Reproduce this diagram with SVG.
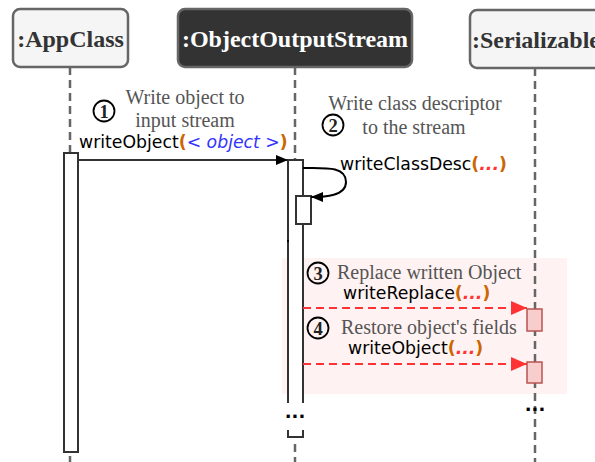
<svg xmlns="http://www.w3.org/2000/svg" width="595" height="462" viewBox="0 0 595 462">
<defs>
<style>
.hdr{font-family:"Liberation Serif",serif;font-weight:bold;font-size:24px;text-anchor:middle}
.life{stroke:#666;stroke-width:2.5;stroke-dasharray:8 5;fill:none}
.note{font-family:"Liberation Serif",serif;font-size:20px;fill:#555}
.circ{fill:none;stroke:#000;stroke-width:1.8}
.num{font-family:"Liberation Serif",serif;font-size:18.5px;font-weight:bold;fill:#222;text-anchor:middle}
.lbl{font-family:"DejaVu Sans",sans-serif;font-size:17.3px;fill:#000}
.par{fill:#cc6600;font-weight:bold}
.dots{fill:#ff3333;font-weight:bold;font-style:italic}
.obj{fill:#3333ff;font-style:italic}
.act{fill:#fff;stroke:#333;stroke-width:2}
.sact{fill:#f8cecc;stroke:#b85450;stroke-width:1.5}
.red{stroke:#ff3333;stroke-width:2;stroke-dasharray:8 5;fill:none}
.ell{font-family:"DejaVu Sans",sans-serif;font-size:18px;font-weight:bold;text-anchor:middle}
</style>
<marker id="ab" viewBox="0 0 12 10" refX="12" refY="5" markerWidth="12" markerHeight="10" markerUnits="userSpaceOnUse" orient="auto"><path d="M0,0L12,5L0,10z" fill="#000"/></marker>
<marker id="ar" viewBox="0 0 16 14" refX="16" refY="7" markerWidth="16" markerHeight="14" markerUnits="userSpaceOnUse" orient="auto"><path d="M0,0L16,7L0,14z" fill="#ff3333"/></marker>
</defs>
<rect x="282" y="258" width="285" height="136" fill="#fff2f2"/>
<g id="lifelines">
<line class="life" x1="70" y1="67" x2="70" y2="153"/>
<line class="life" x1="70" y1="456" x2="70" y2="462"/>
<line class="life" x1="295" y1="67" x2="295" y2="160"/>
<line class="life" x1="295" y1="444" x2="295" y2="462"/>
<line class="life" x1="535" y1="68" x2="535" y2="462"/>
</g>
<g id="appclass">
<rect x="13" y="9" width="115" height="58" rx="7" fill="#f5f5f5" stroke="#666" stroke-width="2.5"/>
<text class="hdr" x="70.5" y="47" fill="#333">:AppClass</text>
<rect class="act" x="64" y="153" width="14" height="299"/>
</g>
<g id="objectoutputstream">
<rect x="178" y="9" width="234" height="58" rx="7" fill="#333" stroke="#666" stroke-width="2.5"/>
<text class="hdr" x="295" y="47" fill="#fff">:ObjectOutputStream</text>
<path d="M288,403V160H303V403Z" fill="#fff"/>
<path d="M288,403V160H303V403" fill="none" stroke="#333" stroke-width="2"/>
<rect class="act" x="296" y="196" width="15" height="28"/>
<rect x="287" y="240" width="2" height="2" fill="#000"/>
<text class="ell" x="295" y="418">...</text>
<path d="M288,430V437H303V430" fill="none" stroke="#333" stroke-width="2"/>
</g>
<g id="serializable">
<rect x="470" y="10" width="140" height="58" rx="7" fill="#f5f5f5" stroke="#666" stroke-width="2.5"/>
<text class="hdr" x="472" y="48" fill="#333" style="text-anchor:start">:Serializable</text>
<rect class="sact" x="527" y="309" width="15" height="22"/>
<rect class="sact" x="527" y="362" width="15" height="21"/>
<text class="ell" x="535" y="411">...</text>
</g>
<g id="connectors">
<line x1="78" y1="160" x2="288" y2="160" stroke="#333" stroke-width="2" marker-end="url(#ab)"/>
<path d="M303,168C325,168 346,166 346,182C346,196 325,197 311,197" fill="none" stroke="#000" stroke-width="2" marker-end="url(#ab)"/>
<line class="red" x1="303" y1="308" x2="527" y2="308" marker-end="url(#ar)"/>
<line class="red" x1="303" y1="364" x2="527" y2="364" marker-end="url(#ar)"/>
</g>
<g id="labels">
<circle class="circ" cx="104" cy="111" r="10.5"/>
<text class="num" x="104" y="117.5">1</text>
<text class="note" x="185" y="104" text-anchor="middle">Write object to</text>
<text class="note" x="185" y="127" text-anchor="middle">input stream</text>
<text class="lbl" x="79" y="148">writeObject<tspan class="par">(</tspan><tspan class="obj">&lt; object &gt;</tspan><tspan class="par">)</tspan></text>
<circle class="circ" cx="333" cy="125" r="10.5"/>
<text class="num" x="333" y="131.5">2</text>
<text class="note" x="415" y="110" text-anchor="middle">Write class descriptor</text>
<text class="note" x="414" y="134" text-anchor="middle">to the stream</text>
<text class="lbl" x="340" y="170">writeClassDesc<tspan class="par">(</tspan><tspan class="dots">...</tspan><tspan class="par">)</tspan></text>
<circle class="circ" cx="318" cy="273" r="10.5"/>
<text class="num" x="318" y="279.5">3</text>
<text class="note" x="337" y="279">Replace written Object</text>
<text class="lbl" x="343" y="299">writeReplace<tspan class="par">(</tspan><tspan class="dots">...</tspan><tspan class="par">)</tspan></text>
<circle class="circ" cx="318" cy="328" r="10.5"/>
<text class="num" x="318" y="334.5">4</text>
<text class="note" x="341" y="334">Restore object's fields</text>
<text class="lbl" x="348" y="354">writeObject<tspan class="par">(</tspan><tspan class="dots">...</tspan><tspan class="par">)</tspan></text>
</g>
</svg>
